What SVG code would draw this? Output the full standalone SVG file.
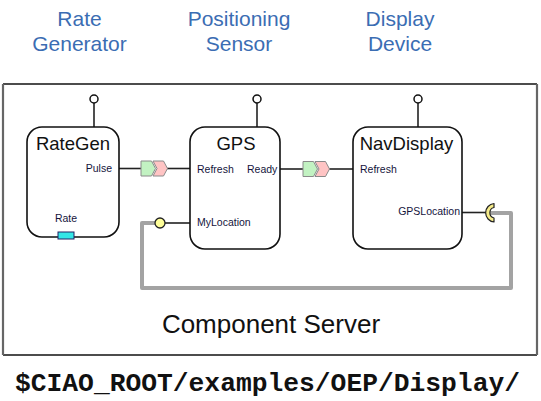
<svg xmlns="http://www.w3.org/2000/svg" width="541" height="401" viewBox="0 0 541 401">
<style>
.cap{font-family:"Liberation Sans",Arial,sans-serif;font-size:21px;fill:#3B6DB3;text-anchor:middle}
.box{fill:#fff;stroke:#111;stroke-width:1.6}
.title{font-family:"Liberation Sans",Arial,sans-serif;font-size:18.5px;fill:#111;text-anchor:middle}
.port{font-family:"Liberation Sans",Arial,sans-serif;font-size:10.5px;fill:#14143c}
.wire{stroke:#222;stroke-width:1.6;fill:none}
.lolli{fill:#fff;stroke:#111;stroke-width:1.5}
.green{fill:#c2f2c2;stroke:#8a8a8a;stroke-width:1}
.pink{fill:#ffc4c4;stroke:#8a8a8a;stroke-width:1}
</style>
<rect width="541" height="401" fill="#fff"/>
<!-- captions -->
<g id="captions">
<text class="cap" x="79.5" y="26">Rate</text>
<text class="cap" x="79.5" y="51">Generator</text>
<text class="cap" x="239" y="26">Positioning</text>
<text class="cap" x="239" y="51">Sensor</text>
<text class="cap" x="400" y="26">Display</text>
<text class="cap" x="400" y="51">Device</text>
</g>
<!-- component server container -->
<g id="server">
<rect x="3" y="84" width="534" height="271" fill="#fff" stroke="none"/>
<line x1="3" y1="84" x2="537" y2="84" stroke="#111" stroke-width="1.6"/>
<line x1="3" y1="355" x2="537" y2="355" stroke="#111" stroke-width="1.6"/>
<line x1="3" y1="84" x2="3" y2="355" stroke="#666" stroke-width="2.2"/>
<line x1="537" y1="84" x2="537" y2="355" stroke="#666" stroke-width="2.2"/>
<text x="271" y="332.5" font-family="'Liberation Sans',Arial,sans-serif" font-size="26" fill="#111" text-anchor="middle">Component Server</text>
</g>
<!-- connectors -->
<g id="connectors">
<path d="M490 213 L511 213 L511 288 L142 288 L142 223 L156 223" fill="none" stroke="#a3a3a3" stroke-width="4" stroke-linejoin="round"/>
<line class="wire" x1="119" y1="168.5" x2="142" y2="168.5"/>
<line class="wire" x1="167" y1="168.5" x2="190" y2="168.5"/>
<path class="green" d="M141 161 L151.5 161 L155.5 168.5 L151.5 176 L141 176 Z"/>
<path class="pink" d="M153 161 L163.5 161 L167.5 168.5 L163.5 176 L153 176 L157 168.5 Z"/>
<line class="wire" x1="280" y1="169" x2="304" y2="169"/>
<line class="wire" x1="329" y1="169" x2="353" y2="169"/>
<path class="green" d="M303 161.5 L313.5 161.5 L317.5 169 L313.5 176.5 L303 176.5 Z"/>
<path class="pink" d="M315 161.5 L325.5 161.5 L329.5 169 L325.5 176.5 L315 176.5 L319 169 Z"/>
<line class="wire" x1="165" y1="223" x2="190" y2="223"/>
<circle cx="160" cy="223" r="5" fill="#ffff99" stroke="#222" stroke-width="1.3"/>
<line class="wire" x1="462" y1="212.5" x2="486" y2="212.5"/>
<path d="M494 203.5 A9.3 9.3 0 0 0 494 222 L494 218 A5.4 5.4 0 0 1 494 207.5 Z" fill="#f6ec8a" stroke="#222" stroke-width="1.2" stroke-linejoin="round"/>
</g>
<!-- RateGen -->
<g id="RateGen">
<line class="wire" x1="94" y1="103" x2="94" y2="127"/>
<circle class="lolli" cx="94" cy="99" r="4"/>
<rect class="box" x="27" y="127" width="92" height="110" rx="15"/>
<text class="title" x="73" y="150">RateGen</text>
<text class="port" x="112" y="172" text-anchor="end">Pulse</text>
<text class="port" x="66" y="222" text-anchor="middle">Rate</text>
<rect x="58" y="232" width="16" height="7" fill="#33e6e6" stroke="#226" stroke-width="1"/>
</g>
<!-- GPS -->
<g id="GPS">
<line class="wire" x1="257" y1="103" x2="257" y2="127"/>
<circle class="lolli" cx="257" cy="99" r="4"/>
<rect class="box" x="190" y="127" width="90" height="122" rx="15"/>
<text class="title" x="236" y="150">GPS</text>
<text class="port" x="197" y="173">Refresh</text>
<text class="port" x="247" y="173">Ready</text>
<text class="port" x="197" y="226">MyLocation</text>
</g>
<!-- NavDisplay -->
<g id="NavDisplay">
<line class="wire" x1="418" y1="103" x2="418" y2="127"/>
<circle class="lolli" cx="418" cy="99" r="4"/>
<rect class="box" x="353" y="127" width="109" height="122" rx="15"/>
<text class="title" x="406.5" y="150">NavDisplay</text>
<text class="port" x="360" y="173">Refresh</text>
<text class="port" x="460" y="215" text-anchor="end">GPSLocation</text>
</g>
<text x="15" y="391" font-family="'Liberation Mono','Courier New',monospace" font-weight="bold" font-size="26.3" fill="#111">$CIAO_ROOT/examples/OEP/Display/</text>
</svg>
